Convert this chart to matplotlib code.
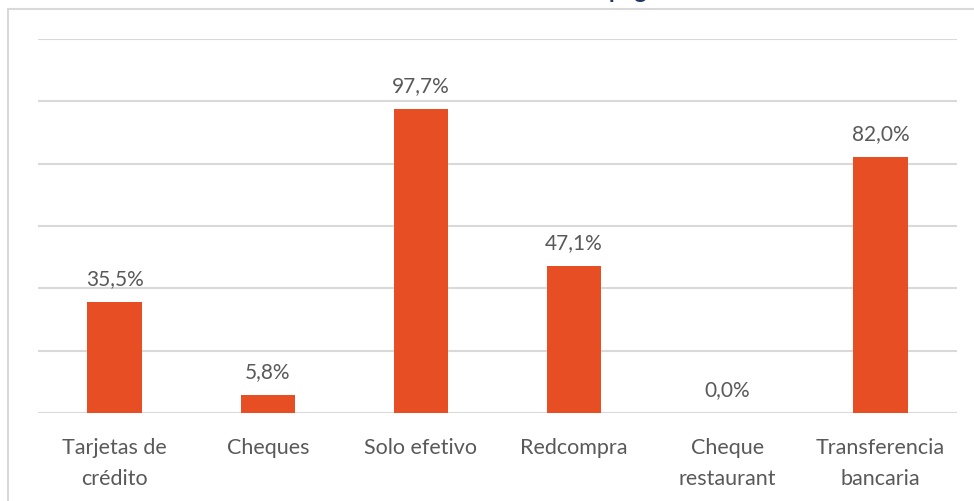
import matplotlib.pyplot as plt
from matplotlib.patches import Rectangle

# Medios de pago aceptados (% de comercios)
categorias = ['Tarjetas de\ncrédito', 'Cheques', 'Solo efetivo', 'Redcompra',
              'Cheque\nrestaurant', 'Transferencia\nbancaria']
porcentajes = [35.5, 5.8, 97.7, 47.1, 0.0, 82.0]
titulo = 'Medios de pago'

naranja = '#E84E24'
gris = '#D9D9D9'
texto = '#595959'

plt.rcParams['font.family'] = ['Lato', 'DejaVu Sans']

fig = plt.figure(figsize=(9.74, 5.02), dpi=100)
W, H = 974, 502

# marco del gráfico
fig.patches.append(Rectangle((8 / W, -0.1), 1.2, (H - 10) / H + 0.1,
                             transform=fig.transFigure, fill=False,
                             edgecolor=gris, linewidth=1.5))

# título (queda cortado arriba)
fig.text(660 / W, 1 + 1.5 / H, titulo, ha='right', va='baseline',
         fontsize=17, fontweight='bold', color='#1F3864')

ax = fig.add_axes([38 / W, (H - 414) / H, (957 - 38) / W, (414 - 40) / H])
x = range(len(categorias))
barras = ax.bar(x, porcentajes, width=0.355, color=naranja, zorder=3)

ax.set_ylim(0, 120)
ax.set_xlim(-0.5, len(categorias) - 0.5)
ax.set_yticks(range(0, 121, 20))
ax.yaxis.grid(True, color=gris, linewidth=1.5, zorder=0)
ax.tick_params(axis='y', length=0, labelleft=False)
ax.set_xticks(list(x))
ax.set_xticklabels(categorias, fontsize=15.5, color=texto, linespacing=1.7)
ax.tick_params(axis='x', length=0, pad=17)
for s in ax.spines.values():
    s.set_visible(False)

for rect, v in zip(barras, porcentajes):
    ax.annotate(f'{v:.1f}%'.replace('.', ','),
                (rect.get_x() + rect.get_width() / 2, v),
                xytext=(0, 10), textcoords='offset points',
                ha='center', va='bottom', fontsize=15, color=texto)

fig.savefig('out.png', dpi=100)
